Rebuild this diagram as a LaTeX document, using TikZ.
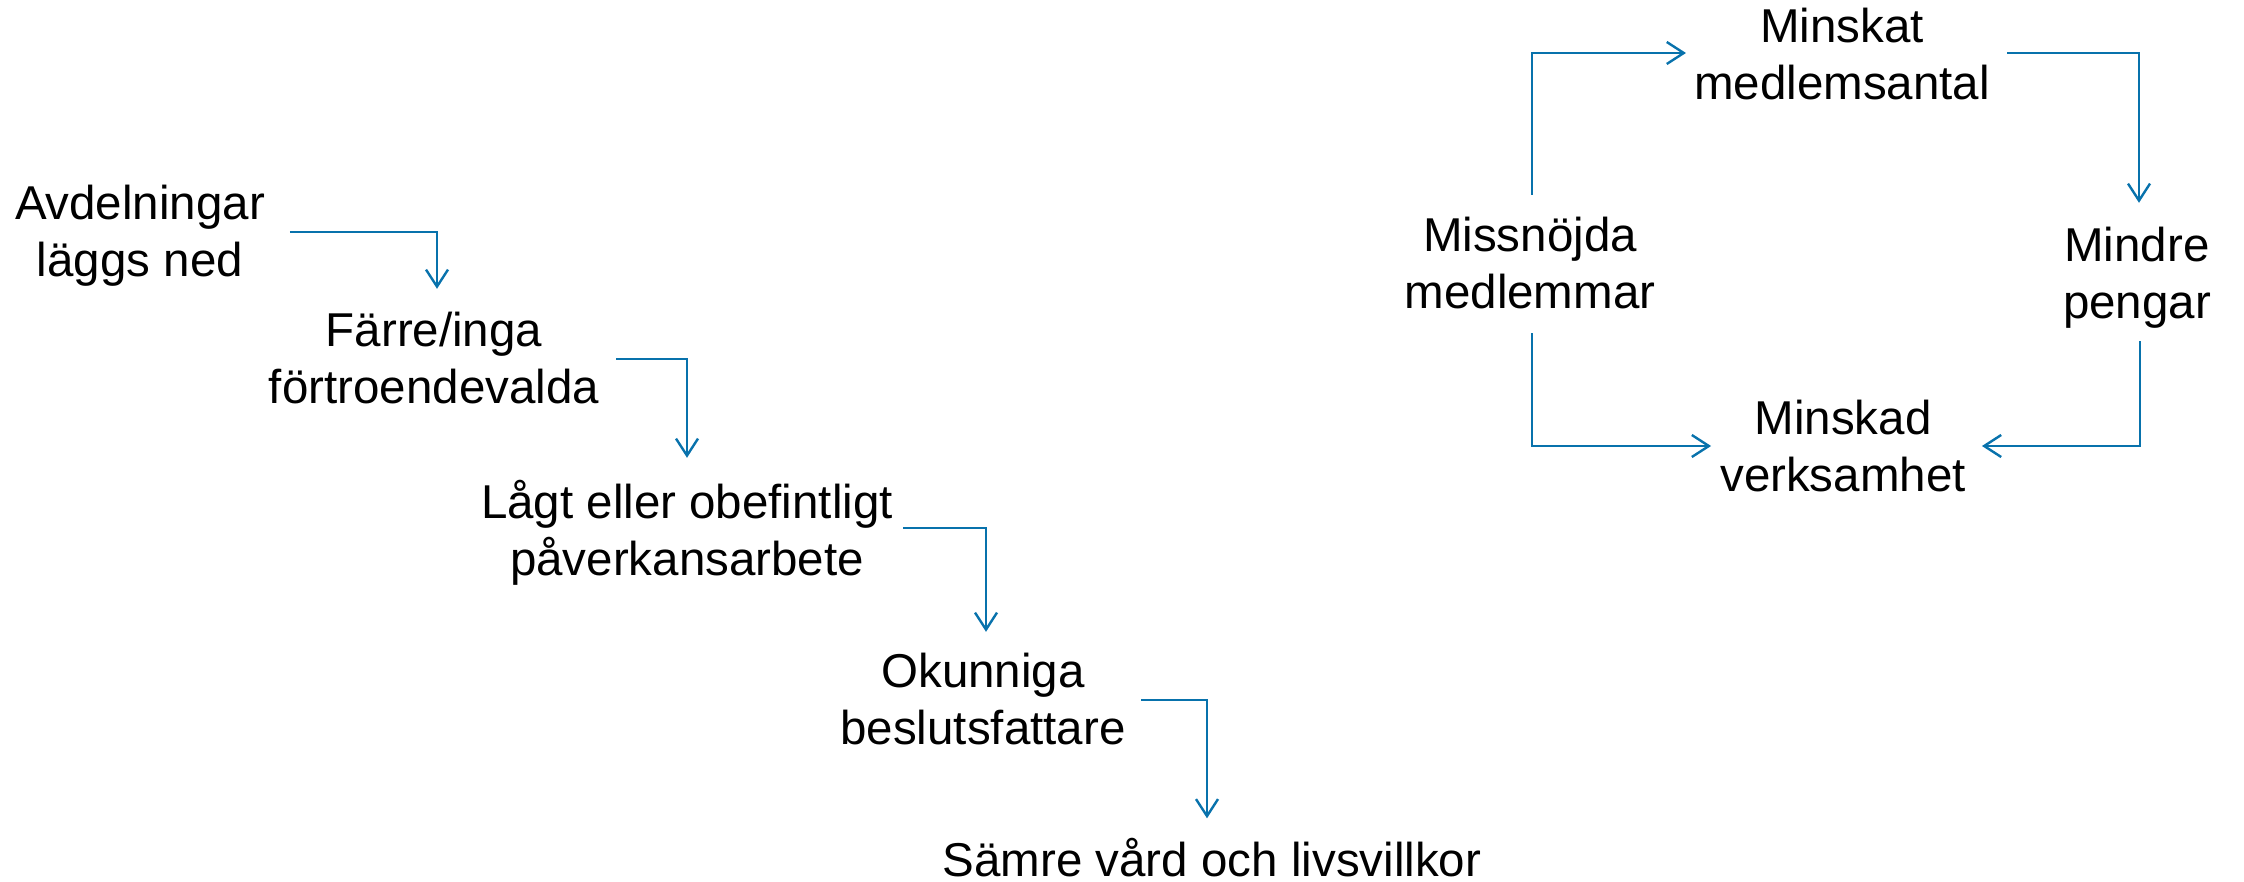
\documentclass[tikz,border=0pt]{standalone}
\usepackage{fontspec}
\setmainfont{Liberation Sans}
\usetikzlibrary{arrows.meta}
\definecolor{linkblue}{RGB}{8,114,172}
\tikzset{
  lbl/.style={inner sep=0pt, align=center, font=\fontsize{47.5}{57}\selectfont},
  arr/.style={draw=linkblue, line width=2.4pt,
    -{Straight Barb[length=17pt,width=22pt,line width=2.4pt]}}
}
\begin{document}
\begin{tikzpicture}[x=1pt,y=-1pt]
\useasboundingbox (0,0) rectangle (2244,882);
% left chain
\node[lbl] (avd) at (140,237) {Avdelningar\strut\\läggs ned\strut};
\node[lbl] (far) at (434,364) {Färre/inga\strut\\förtroendevalda\strut};
\node[lbl] (lagt) at (687,536) {Lågt eller obefintligt\strut\\påverkansarbete\strut};
\node[lbl] (okun) at (983,705) {Okunniga\strut\\beslutsfattare\strut};
\node[lbl] (samre) at (1212,865) {Sämre vård och livsvillkor\strut};
% cycle
\node[lbl] (minskat) at (1842,60) {Minskat\strut\\medlemsantal\strut};
\node[lbl] (missn) at (1530,269) {Missnöjda\strut\\medlemmar\strut};
\node[lbl] (mindre) at (2137,279) {Mindre\strut\\pengar\strut};
\node[lbl] (minskad) at (1843,452) {Minskad\strut\\verksamhet\strut};
% connectors left chain
\draw[arr] ([xshift=24.6,yshift=5]avd.east) -| ([xshift=3,yshift=18]far.north);
\draw[arr] ([xshift=17,yshift=5]far.east) -| ([yshift=21]lagt.north);
\draw[arr] ([xshift=10,yshift=8]lagt.east) -| ([xshift=3,yshift=16]okun.north);
\draw[arr] ([xshift=15.4,yshift=5]okun.east) -| ([xshift=-5,yshift=18]samre.north);
% connectors cycle
\draw[arr] ([xshift=2,yshift=17]missn.north) |- ([xshift=-8,yshift=7]minskat.west);
\draw[arr] ([xshift=17,yshift=7]minskat.east) -| ([xshift=2,yshift=19]mindre.north);
\draw[arr] ([xshift=2,yshift=-7]missn.south) |- ([xshift=-9,yshift=6]minskad.west);
\draw[arr] ([xshift=3,yshift=-5]mindre.south) |- ([xshift=16,yshift=6]minskad.east);
\end{tikzpicture}
\end{document}
